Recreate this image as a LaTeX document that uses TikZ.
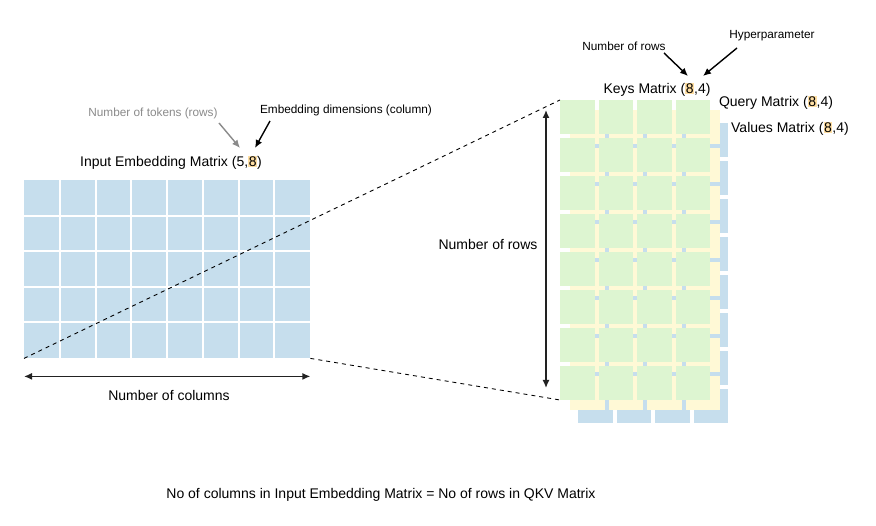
\documentclass[tikz,border=0pt]{standalone}
\usepackage{fontspec}
\setmainfont{Liberation Sans}
\usetikzlibrary{arrows.meta, positioning}
\definecolor{cellblue}{HTML}{C6DEED}
\definecolor{cellgreen}{HTML}{DDF5D1}
\definecolor{cellyellow}{HTML}{FFF9D6}
\definecolor{hlorange}{HTML}{FFDFA3}
\definecolor{tokgray}{HTML}{8A8A8A}
\definecolor{inkdark}{HTML}{222222}
\newcommand{\hlnum}[1]{{\setlength{\fboxsep}{0.6pt}\colorbox{hlorange}{#1}}}

\begin{document}
\begin{tikzpicture}[x=1pt,y=-1pt,
  big/.style={font=\fontsize{14}{16}\selectfont, inner sep=0pt},
  small/.style={font=\fontsize{11.8}{13}\selectfont, inner sep=0pt},
  pointer/.style={-{Latex[length=8pt,width=7pt]}, line width=1.4pt},
  span/.style={{Latex[length=8pt,width=7pt]}-{Latex[length=8pt,width=7pt]}, line width=1.4pt, inkdark},
  guide/.style={dash pattern=on 4pt off 4pt, line width=0.9pt}]
  \useasboundingbox (0,0) rectangle (876,526);
%------------------------------------------------------------------
  % input embedding matrix (5 x 8)
  \node[fill=cellblue, minimum width=286pt, minimum height=178pt, inner sep=0pt, anchor=north west] (inp) at (24,180) {};
  \foreach \i in {1,...,7}
    \draw[white, line width=2pt] (24+\i*35.75,180) -- (24+\i*35.75,358);
  \foreach \j in {1,...,4}
    \draw[white, line width=2pt] (24,180+\j*35.6) -- (310,180+\j*35.6);
  \node[big] (inplabel) at (171,163) {Input Embedding Matrix (5,\hlnum{8})};
  \node[small, text=tokgray] (tok) at (153,113) {Number of tokens (rows)};
  \node[small] (emb) at (346,110) {Embedding dimensions (column)};
  \coordinate (tokend) at (240,148);
  \coordinate (embend) at (255,148);
  \draw[pointer, tokgray] (219,123) -- (tokend);
  \draw[pointer] (270,121) -- (embend);
  \draw[span] ([yshift=-18pt]inp.south west) -- ([yshift=-18pt]inp.south east);
  \node[big] (cols) at (169,395) {Number of columns};
%------------------------------------------------------------------
  % values, query and keys matrices (8 x 4)
  \foreach \dx/\dy/\col in {18/23/cellblue, 10/10/cellyellow, 0/0/cellgreen}
    \foreach \c in {0,...,3}
      \foreach \r in {0,...,7}
        \fill[\col] (560+\dx+\c*38.5, 100+\dy+\r*38) rectangle ++(34.5,33.6);
  \node[minimum width=149.5pt, minimum height=299.6pt, inner sep=0pt, anchor=north west] (keys) at (560,100) {};
  \node[big] (keylabel) at (657,90) {Keys Matrix (\hlnum{8},4)};
  \node[big] (qlabel) at (776,103) {Query Matrix (\hlnum{8},4)};
  \node[big] (vlabel) at (790,129) {Values Matrix (\hlnum{8},4)};
  \node[small] (rowsnote) at (624,46) {Number of rows};
  \node[small] (hyper) at (772,36) {Hyperparameter};
  \coordinate (rowsend) at (688,76);
  \coordinate (hyperend) at (703,76);
  \draw[pointer] (664,53) -- (rowsend);
  \draw[pointer] (737,48) -- (hyperend);
  \draw[span] ([xshift=-14pt,yshift=-10pt]keys.north west) -- ([xshift=-14pt,yshift=12pt]keys.south west);
  \node[big] (rows) at (488,244) {Number of rows};
%------------------------------------------------------------------
  \draw[guide] (inp.south west) -- (keys.north west);
  \draw[guide] (inp.south east) -- (keys.south west);
  \node[big] (note) at (381,495) {No of columns in Input Embedding Matrix = No of rows in QKV Matrix};
\end{tikzpicture}
\end{document}
